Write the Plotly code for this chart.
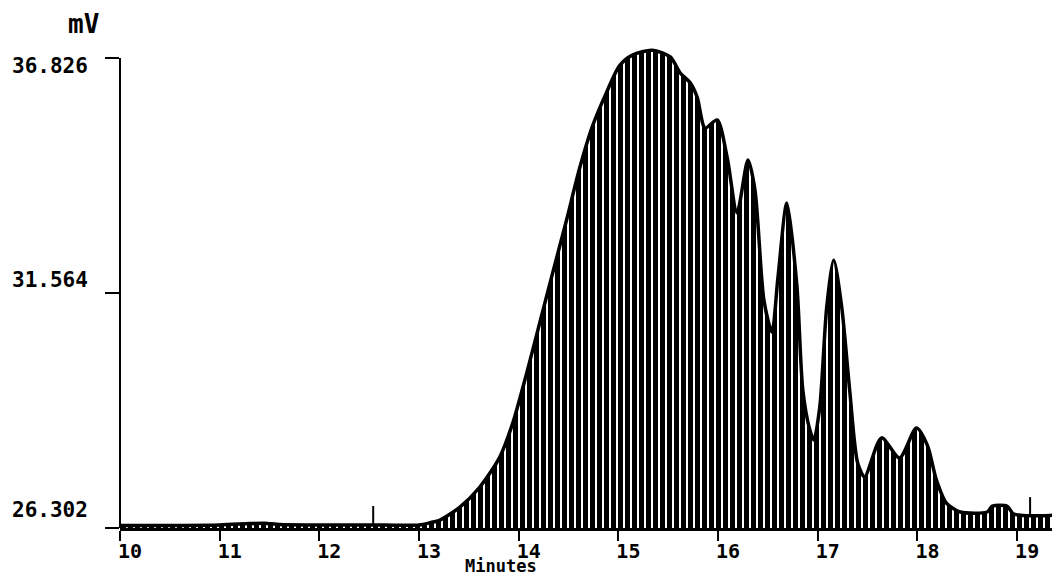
import plotly.graph_objects as go

# ---- data ----
minutes = [10.00, 10.50, 11.00, 11.30, 11.45, 11.60, 12.00, 12.50, 13.00, 13.11, 13.21,
           13.41, 13.61, 13.81, 13.94, 14.08, 14.21, 14.34, 14.48, 14.61, 14.74, 14.88,
           15.01, 15.14, 15.34, 15.52, 15.62, 15.72, 15.79, 15.87, 15.99, 16.09, 16.19,
           16.30, 16.37, 16.46, 16.54, 16.60, 16.69, 16.79, 16.85, 16.92, 16.96, 17.02,
           17.09, 17.16, 17.24, 17.32, 17.40, 17.47, 17.64, 17.82, 17.99, 18.10, 18.19,
           18.29, 18.43, 18.70, 18.75, 18.90, 18.96, 19.03, 19.36, 19.43]
signal_mv = [26.36, 26.36, 26.37, 26.40, 26.41, 26.38, 26.37, 26.37, 26.37, 26.42, 26.48,
             26.77, 27.22, 27.89, 28.65, 29.77, 30.89, 32.01, 33.20, 34.35, 35.30, 36.05,
             36.65, 36.89, 37.00, 36.85, 36.49, 36.27, 35.95, 35.26, 35.44, 34.61, 33.36,
             34.54, 33.87, 31.40, 30.69, 31.90, 33.58, 31.74, 29.39, 28.50, 28.27, 29.01,
             31.25, 32.30, 31.25, 29.39, 27.76, 27.45, 28.32, 27.87, 28.54, 28.15, 27.38,
             26.86, 26.66, 26.66, 26.79, 26.79, 26.62, 26.59, 26.59, 26.66]

event_minutes = [12.54, 19.13]
event_mv = [26.59, 26.79]

y_tick_vals = [26.302, 31.564, 36.826]
y_tick_text = ["26.302", "31.564", "36.826"]
x_tick_vals = [10, 11, 12, 13, 14, 15, 16, 17, 18, 19]
x_tick_text = ["10", "11", "12", "13", "14", "15", "16", "17", "18", "19"]

FONT = "DejaVu Sans Mono"
FS = 21

fig = go.Figure()
fig.add_trace(go.Scatter(
    x=minutes, y=signal_mv, mode="lines",
    line=dict(color="black", width=3.5, shape="spline", smoothing=0.75),
    fill="tozeroy",
    fillcolor="white",
    fillpattern=dict(shape="|", fgcolor="#000000", bgcolor="#ffffff", fgopacity=1,
                     fillmode="replace", size=7, solidity=0.72),
    showlegend=False, hoverinfo="skip",
))
fig.add_trace(go.Scatter(
    x=event_minutes, y=event_mv, mode="markers",
    marker=dict(symbol="line-ns", size=13, line=dict(color="black", width=2)),
    showlegend=False, hoverinfo="skip",
))

# y tick labels drawn as text next to their ticks (plotter places them slightly off the tick)
label_shifts = [18, 13, -8]
annotations = [
    dict(text=t, xref="paper", yref="y", x=0, y=v, xanchor="right", yanchor="middle",
         xshift=-30, yshift=s, showarrow=False,
         font=dict(family=FONT, size=FS, weight="bold", color="black"))
    for t, v, s in zip(y_tick_text, y_tick_vals, label_shifts)
]
annotations += [
    dict(text="Minutes", xref="x", yref="paper", x=13.82, y=0, yanchor="middle",
         yshift=-38, showarrow=False,
         font=dict(family=FONT, size=17, weight="bold", color="black")),
    dict(text="mV", xref="paper", yref="paper", x=-0.0383, y=1.033,
         xanchor="center", yanchor="middle", showarrow=False,
         font=dict(family=FONT, size=26, weight="bold", color="black")),
]

# the page adds an 8px body margin, so the figure is sized to fill the rest of the window
fig.update_layout(
    width=1052, height=568,
    margin=dict(l=112, r=0, t=32, b=48, autoexpand=False),
    paper_bgcolor="white", plot_bgcolor="white",
    font=dict(family=FONT, color="black", size=FS, weight="bold"),
    xaxis=dict(
        range=[10, 19.43], tickvals=x_tick_vals, ticktext=x_tick_text,
        ticks="outside", ticklen=10, tickwidth=2, tickcolor="black",
        showline=True, linecolor="black", linewidth=2.5,
        showgrid=False, zeroline=False, automargin=False,
        ticklabelshift=10, ticklabelstandoff=-7,
        tickfont=dict(family=FONT, size=20, weight="bold"),
    ),
    yaxis=dict(
        range=[26.302, 37.229], tickvals=y_tick_vals, ticktext=y_tick_text,
        showticklabels=False,
        ticks="outside", ticklen=14, tickwidth=2, tickcolor="black",
        showline=False, showgrid=False, zeroline=False, automargin=False,
    ),
    shapes=[dict(type="line", xref="paper", yref="y", x0=0, x1=0,
                 y0=26.302, y1=36.826, line=dict(color="black", width=2))],
    annotations=annotations,
)

fig.write_html("out.html")
